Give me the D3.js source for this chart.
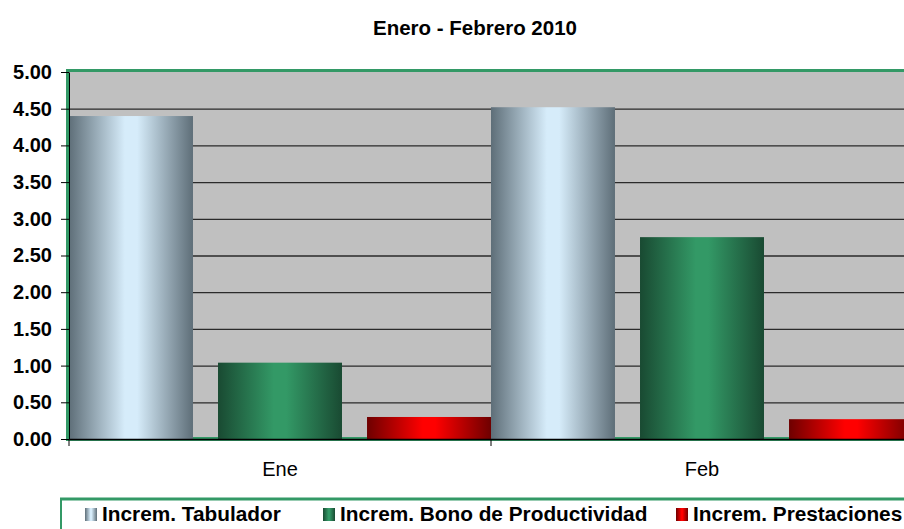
<!DOCTYPE html>
<html>
<head>
<meta charset="utf-8">
<style>
  body { margin: 0; background: #fff; }
  svg { display: block; font-family: Arial, "Liberation Sans", sans-serif; }
</style>
</head>
<body>
<svg></svg>
<script src="https://cdn.jsdelivr.net/npm/d3@7/dist/d3.min.js"></script>
<script>

var months = ["Ene", "Feb"],
    series = ["Increm. Tabulador", "Increm. Bono de Productividad", "Increm. Prestaciones"],
    tabulador = [4.40, 4.52],
    bono = [1.04, 2.75],
    prestaciones = [0.30, 0.27],
    yTicks = [0, 0.5, 1, 1.5, 2, 2.5, 3, 3.5, 4, 4.5, 5];

var width = 904,
    height = 529,
    svg = d3.select("svg").attr("width", width).attr("height", height);

// edge / centre colours for each series' cylinder look
var shades = [
  {id: "gTab", edge: "#5e6e78", mid: "#d6ecfa"},
  {id: "gBono", edge: "#194a32", mid: "#339966"},
  {id: "gPrest", edge: "#6e0000", mid: "#ff0000"}
];

var defs = svg.append("defs");
shades.forEach(s => {
  var g = defs.append("linearGradient").attr("id", s.id)
      .attr("x1", "0%").attr("x2", "100%").attr("y1", "0%").attr("y2", "0%");
  g.append("stop").attr("offset", "0%").attr("stop-color", s.edge);
  g.append("stop").attr("offset", "45%").attr("stop-color", s.mid);
  g.append("stop").attr("offset", "55%").attr("stop-color", s.mid);
  g.append("stop").attr("offset", "100%").attr("stop-color", s.edge);
});

var values = [tabulador, bono, prestaciones];
var rows = [];
months.forEach((m, i) => series.forEach((s, j) => rows.push({month: m, s: j, v: values[j][i]})));

var x = d3.scaleBand().domain(months).range([69, 913]).padding(0),
    xs = d3.scaleBand().domain(d3.range(series.length)).range([0, x.bandwidth()])
           .paddingInner(0.168).paddingOuter(0),
    y = d3.scaleLinear().domain([0, 5]).range([439, 72]);

// plot area
svg.append("rect")
    .attr("x", 67).attr("y", y(5) - 1)
    .attr("width", width - 67).attr("height", y(0) - y(5) + 1)
    .attr("fill", "#c0c0c0");

// gridlines
svg.append("g").selectAll("line")
  .data(yTicks.filter(d => d > 0 && d < 5))
  .join("line")
    .attr("x1", 69).attr("x2", width)
    .attr("y1", d => y(d) + 0.5).attr("y2", d => y(d) + 0.5)
    .attr("stroke", "#2a2a2a").attr("stroke-width", 1.3);

// green floor strip
svg.append("rect")
    .attr("x", 69).attr("y", y(0) - 2)
    .attr("width", width - 69).attr("height", 4)
    .attr("fill", "#339966");

// bars
svg.append("g").selectAll("rect")
  .data(rows)
  .join("rect")
    .attr("x", d => x(d.month) + xs(d.s))
    .attr("y", d => y(d.v))
    .attr("width", xs.bandwidth())
    .attr("height", d => y(0) - y(d.v))
    .attr("fill", d => "url(#" + shades[d.s].id + ")");

// plot area green border (top and left)
svg.append("line")
    .attr("x1", 66).attr("x2", width).attr("y1", y(5) - 1.5).attr("y2", y(5) - 1.5)
    .attr("stroke", "#339966").attr("stroke-width", 3);
svg.append("line")
    .attr("x1", 67.5).attr("x2", 67.5).attr("y1", y(5) - 3).attr("y2", y(0) + 2)
    .attr("stroke", "#339966").attr("stroke-width", 3);

// y axis
var yAxis = svg.append("g")
    .attr("transform", "translate(69,0)")
    .call(d3.axisLeft(y).tickValues(yTicks).tickFormat(d3.format(".2f")).tickSize(8).tickSizeOuter(0));
yAxis.select(".domain").attr("stroke", "#000");
yAxis.selectAll("line").attr("stroke", "#000");
yAxis.selectAll("text")
    .attr("x", -17)
    .attr("fill", "#000")
    .style("font-size", "20px")
    .style("font-weight", "bold")
    .style("font-family", "Arial, 'Liberation Sans', sans-serif");

// x axis
var xAxis = svg.append("g")
    .attr("transform", "translate(0," + y(0) + ")")
    .call(d3.axisBottom(x).tickSize(0).tickSizeOuter(0));
xAxis.select(".domain").attr("stroke", "#000").attr("stroke-width", 1.5);
xAxis.selectAll("text")
    .attr("y", 23)
    .attr("fill", "#000")
    .style("font-size", "20px")
    .style("font-family", "Arial, 'Liberation Sans', sans-serif");
svg.append("g").selectAll("line")
  .data([69].concat(months.slice(1).map(m => x(m))))
  .join("line")
    .attr("x1", d => d).attr("x2", d => d)
    .attr("y1", y(0)).attr("y2", y(0) + 7)
    .attr("stroke", "#000");

// title
svg.append("text")
    .attr("x", 475).attr("y", 35)
    .attr("text-anchor", "middle")
    .style("font-size", "20.5px")
    .style("font-weight", "bold")
    .text("Enero - Febrero 2010");

// legend
svg.append("line")
    .attr("x1", 60).attr("x2", width).attr("y1", 499).attr("y2", 499)
    .attr("stroke", "#339966").attr("stroke-width", 3);
svg.append("line")
    .attr("x1", 61).attr("x2", 61).attr("y1", 498).attr("y2", height)
    .attr("stroke", "#339966").attr("stroke-width", 2);

var legendX = [85, 323, 676];
var leg = svg.append("g").selectAll("g")
  .data(series)
  .join("g")
    .attr("transform", (d, i) => "translate(" + legendX[i] + ",508)");
leg.append("rect")
    .attr("width", 12).attr("height", 13)
    .attr("fill", (d, i) => "url(#" + shades[i].id + ")");
leg.append("text")
    .attr("x", 17).attr("y", 13)
    .style("font-size", "20.8px")
    .style("font-weight", "bold")
    .text(d => d);

</script>
</body>
</html>
